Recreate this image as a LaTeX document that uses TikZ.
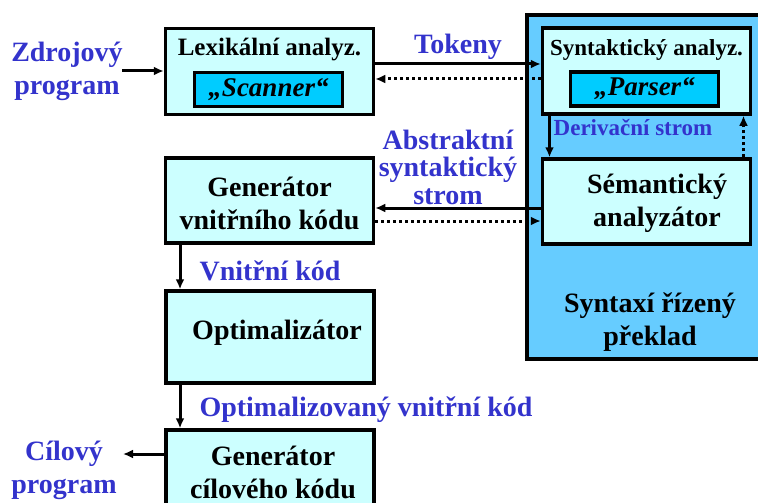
\documentclass[tikz,border=0pt]{standalone}
\usepackage{fontspec}
\setmainfont{Liberation Serif}
\usetikzlibrary{positioning, arrows.meta}
\definecolor{boxfill}{RGB}{204,255,255}
\definecolor{innerfill}{RGB}{0,204,255}
\definecolor{groupfill}{RGB}{102,204,255}
\definecolor{labelblue}{RGB}{51,51,204}

\begin{document}
\begin{tikzpicture}[x=1pt,y=-1pt,line width=3pt,
  box/.style={draw,fill=boxfill,line width=3.5pt,inner sep=0pt,minimum width=208pt},
  inbox/.style={draw,fill=innerfill,line width=3.5pt,inner sep=0pt,minimum width=148pt,minimum height=34pt,
    font=\fontsize{27}{30}\selectfont\bfseries\itshape},
  txt/.style={inner sep=0pt,align=center,font=\fontsize{28}{33}\selectfont\bfseries},
  lbl/.style={txt,text=labelblue},
  arr/.style={-{Latex[length=10pt,width=9pt]}},
  back/.style={arr,dash pattern=on 3pt off 3pt}]
\useasboundingbox (0,0) rectangle (758,503);
% syntaxi rizeny preklad
\node[draw,fill=groupfill,line width=4pt,inner sep=0pt,minimum width=260pt,minimum height=344pt] (group) at (657,187) {};
\node[txt] (grouptxt) at (650,322) {Syntaxí řízený\\překlad};
% boxes
\node[box,minimum height=86pt] (lex) at (269.5,71.5) {};
\node[txt,font=\fontsize{25}{30}\selectfont\bfseries] (lextxt) at (269.5,50) {Lexikální analyz.};
\node[inbox] (scan) at (268.5,89.5) {„Scanner“};
\node[box,minimum height=86pt] (syn) at (646.5,71) {};
\node[txt,font=\fontsize{23}{30}\selectfont\bfseries] (syntxt) at (646.5,50) {Syntaktický analyz.};
\node[inbox] (pars) at (644.5,89) {„Parser“};
\node[box,minimum height=85pt] (sem) at (646.5,201.5) {};
\node[txt] (semtxt) at (657,203) {Sémantický\\analyzátor};
\node[box,minimum height=85pt] (genv) at (269.5,200.5) {};
\node[txt] (genvtxt) at (269.5,203) {Generátor\\vnitřního kódu};
\node[box,minimum height=92pt] (opt) at (270,337) {};
\node[txt] (opttxt) at (277,333) {Optimalizátor};
\node[box,minimum height=90pt] (genc) at (270,475) {};
\node[txt] (genctxt) at (273,472) {Generátor\\cílového kódu};
% labels
\node[lbl] (src) at (67,71) {Zdrojový\\program};
\node[lbl] (dst) at (64,470) {Cílový\\program};
\node[lbl] (tok) at (458,47) {Tokeny};
\node[lbl,font=\fontsize{23}{28}\selectfont\bfseries] (der) at (633,128) {Derivační strom};
\node[lbl,font=\fontsize{28}{27.5}\selectfont\bfseries] (ast) at (448,167) {Abstraktní\\syntaktický\\strom};
\node[lbl] (vk) at (270,271) {Vnitřní kód};
\node[lbl] (ovk) at (366,410) {Optimalizovaný vnitřní kód};
\coordinate (in) at (122,71);
\coordinate (out) at (123,454);
% connectors
\draw[arr] (in) -- (in -| lex.west);
\draw[arr] ([yshift=7.5pt]lex.east) -- ([yshift=7.5pt]lex.east -| syn.west);
\draw[back] ([yshift=-8pt]syn.west) -- ([yshift=-8pt]syn.west -| lex.east);
\draw[arr] ([xshift=-97pt]syn.south) -- ([xshift=-97pt]syn.south |- sem.north);
\draw[back] ([xshift=97pt]sem.north) -- ([xshift=97pt]sem.north |- syn.south);
\draw[arr] ([yshift=-6.5pt]sem.west) -- ([yshift=-6.5pt]sem.west -| genv.east);
\draw[back] ([yshift=-20.5pt]genv.east) -- ([yshift=-20.5pt]genv.east -| sem.west);
\draw[arr] ([xshift=-89.5pt]genv.south) -- ([xshift=-89.5pt]genv.south |- opt.north);
\draw[arr] ([xshift=-90pt]opt.south) -- ([xshift=-90pt]opt.south |- genc.north);
\draw[arr] ([yshift=21pt]genc.west) -- (out);
\end{tikzpicture}
\end{document}
